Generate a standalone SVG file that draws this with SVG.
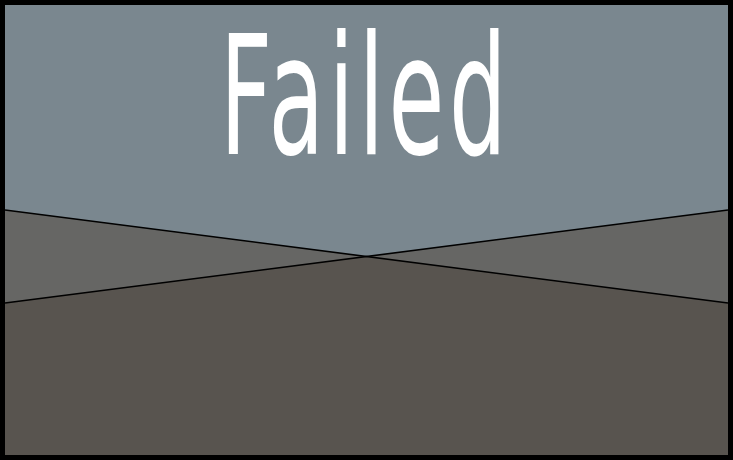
<svg xmlns="http://www.w3.org/2000/svg" width="733" height="460" viewBox="0 0 733 460">
<style>
.ln{stroke:#000;stroke-width:1.6;fill:none}
.t{font-family:"DejaVu Sans",sans-serif;font-size:165px;fill:#fff;letter-spacing:8.5px}
</style>
<rect x="0" y="0" width="733" height="460" fill="#000"/>
<rect x="5" y="5" width="723" height="450" fill="#666664"/>
<polygon points="5,5 728,5 728,210 366.5,256.5 5,210" fill="#7a878f"/>
<polygon points="5,303 366.5,256.5 728,303 728,455 5,455" fill="#58544f"/>
<g id="lines">
<line class="ln" x1="5" y1="210" x2="728" y2="303"/>
<line class="ln" x1="5" y1="303" x2="728" y2="210"/>
</g>
<text class="t" transform="translate(220,154) scale(0.55,1)" x="0" y="0">Failed</text>
</svg>
